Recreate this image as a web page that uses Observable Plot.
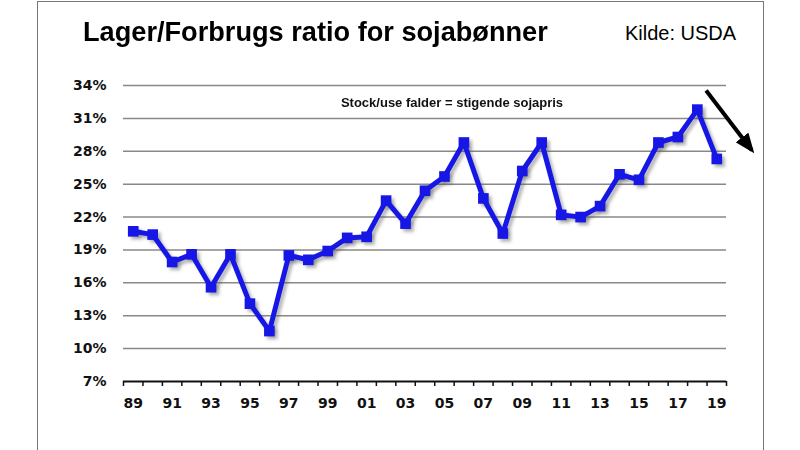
<!DOCTYPE html>
<html>
<head>
<meta charset="utf-8">
<script src="https://cdn.jsdelivr.net/npm/d3@7"></script>
<script src="https://cdn.jsdelivr.net/npm/@observablehq/plot@0.6"></script>
<style>
  html, body { margin: 0; padding: 0; background: #fff; }
  #wrap { position: relative; width: 800px; height: 450px; overflow: hidden; }
  #frame { position: absolute; left: 37px; top: 1px; width: 727px; height: 460px; border: 1.5px solid #777; box-sizing: border-box; }
  #title { position: absolute; left: 83px; top: 16px; font-family: "Liberation Sans", Arial, sans-serif; font-weight: bold; font-size: 28px; color: #000; white-space: nowrap; transform: scaleX(0.97); transform-origin: left top; }
  #source { position: absolute; left: 625px; top: 22px; font-family: "Liberation Sans", Arial, sans-serif; font-size: 20px; color: #000; white-space: nowrap; }
  #chart { position: absolute; left: 0; top: 0; }
  #chart svg text.lbl { font-family: "DejaVu Sans", sans-serif !important; font-weight: bold !important; font-size: 14px !important; }
</style>
</head>
<body>
<div id="wrap">
  <div id="frame"></div>
  <div id="chart"></div>
  <div id="title">Lager/Forbrugs ratio for sojabønner</div>
  <div id="source">Kilde: USDA</div>
</div>
<script>
const years = [1989,1990,1991,1992,1993,1994,1995,1996,1997,1998,1999,2000,2001,2002,2003,2004,2005,2006,2007,2008,2009,2010,2011,2012,2013,2014,2015,2016,2017,2018,2019];
const ratio = [20.7,20.4,17.9,18.6,15.6,18.6,14.1,11.6,18.5,18.1,18.9,20.1,20.2,23.5,21.4,24.4,25.7,28.8,23.7,20.5,26.2,28.8,22.2,22.0,23.0,25.9,25.4,28.8,29.3,31.8,27.3];
const yTicks = [7,10,13,16,19,22,25,28,31,34];
const xLabelYears = [1989,1991,1993,1995,1997,1999,2001,2003,2005,2007,2009,2011,2013,2015,2017,2019];
const xTickBounds = d3.range(1988.5, 2020, 1);
const annotation = "Stock/use falder = stigende sojapris";
const arrowFrom = {x: 2018.45, y: 33.55};
const arrowTo = {x: 2020.8, y: 28.1};

const data = years.map((y, i) => ({year: y, value: ratio[i]}));
const blue = "#1616e6";
const labelFont = "DejaVu Sans";

const chart = Plot.plot({
  width: 800,
  height: 450,
  marginLeft: 123,
  marginRight: 74,
  marginTop: 85,
  marginBottom: 69,
  style: {background: "transparent", overflow: "visible"},
  x: {domain: [1988.5, 2019.5], axis: null},
  y: {domain: [7, 34], axis: null},
  marks: [
    Plot.ruleY(yTicks.filter(d => d > 7), {stroke: "#888", strokeWidth: 1.5}),
    Plot.text(yTicks, {y: d => d, text: d => d + "%", frameAnchor: "left", textAnchor: "end", dx: -17, fontFamily: labelFont, fontSize: 14, fontWeight: "bold", fill: "#111"}),
    Plot.ruleX(xTickBounds, {x: d => d, y1: 7, y2: 7, insetBottom: -5, stroke: "#111", strokeWidth: 1.5}),
    Plot.text(xLabelYears, {x: d => d, text: d => String(d % 100).padStart(2, "0"), frameAnchor: "bottom", lineAnchor: "middle", dy: 22, fontFamily: labelFont, fontSize: 14, fontWeight: "bold", fill: "#111"}),
    Plot.ruleY([7], {stroke: "#111", strokeWidth: 2}),
    Plot.line(data, {x: "year", y: "value", stroke: "#555", strokeWidth: 5, strokeOpacity: 0.4, dx: 3, dy: 3}),
    Plot.dot(data, {x: "year", y: "value", symbol: "square", r: 6, fill: "#555", fillOpacity: 0.4, dx: 3, dy: 3}),
    Plot.line(data, {x: "year", y: "value", stroke: blue, strokeWidth: 5}),
    Plot.dot(data, {x: "year", y: "value", symbol: "square", r: 6, fill: blue}),
    Plot.text([annotation], {frameAnchor: "top", dx: 27, dy: 12, fontFamily: "Liberation Sans", fontSize: 13, fontWeight: "bold", fill: "#111"}),
    Plot.link([{x1: arrowFrom.x, y1: arrowFrom.y, x2: arrowTo.x, y2: arrowTo.y}], {x1: "x1", y1: "y1", x2: "x2", y2: "y2", stroke: "#000", strokeWidth: 4, clip: false})
  ]
});

const svg = chart;
const ns = "http://www.w3.org/2000/svg";
const defs = document.createElementNS(ns, "defs");
defs.innerHTML = '<filter id="blur" x="-10%" y="-10%" width="120%" height="120%"><feGaussianBlur stdDeviation="1.6"/></filter>' +
  '<marker id="head" viewBox="0 0 10 10" refX="8" refY="5" markerUnits="userSpaceOnUse" markerWidth="20" markerHeight="16" orient="auto" preserveAspectRatio="none"><path d="M0,0 L10,5 L0,10 Z" fill="#000" stroke="none"/></marker>';
svg.insertBefore(defs, svg.firstChild);
const lines = svg.querySelectorAll('g[aria-label="line"]');
const dots = svg.querySelectorAll('g[aria-label="dot"]');
if (lines[0]) lines[0].setAttribute("filter", "url(#blur)");
if (dots[0]) dots[0].setAttribute("filter", "url(#blur)");
svg.querySelectorAll('g[aria-label="link"] path').forEach(p => p.setAttribute("marker-end", "url(#head)"));
const texts = svg.querySelectorAll('g[aria-label="text"]');
[0, 1].forEach(i => { if (texts[i]) texts[i].querySelectorAll("text").forEach(t => t.classList.add("lbl")); });

document.getElementById("chart").appendChild(chart);
</script>
</body>
</html>
